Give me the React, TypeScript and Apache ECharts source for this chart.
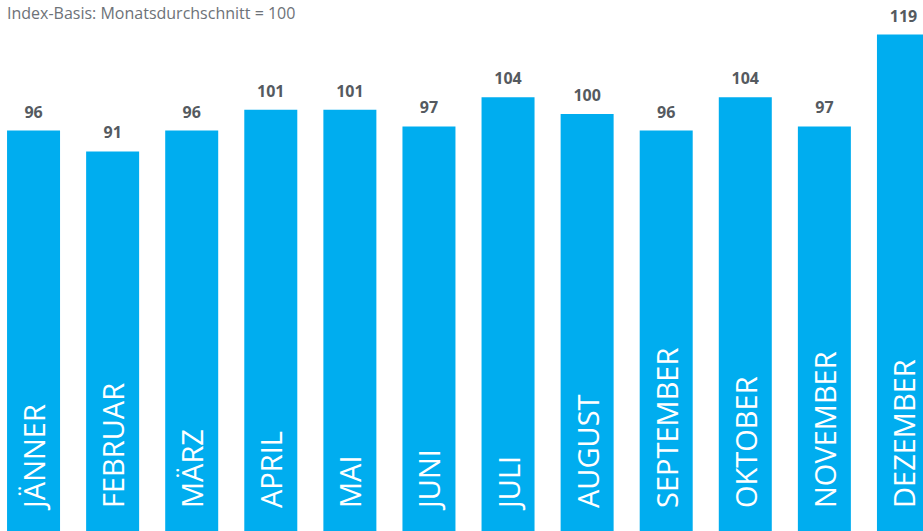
import React, { useEffect, useRef } from "react";
import * as echarts from "echarts";

const months = ["JÄNNER", "FEBRUAR", "MÄRZ", "APRIL", "MAI", "JUNI", "JULI", "AUGUST", "SEPTEMBER", "OKTOBER", "NOVEMBER", "DEZEMBER"];
const indexValues = [96, 91, 96, 101, 101, 97, 104, 100, 96, 104, 97, 119];
const subtitle = "Index-Basis: Monatsdurchschnitt = 100";

export default function App() {
  const ref = useRef<HTMLDivElement>(null);
  useEffect(() => {
    document.body.style.margin = "0";
    const chart = echarts.init(ref.current!, null, { renderer: "svg" });
    chart.setOption({
      animation: false,
      title: {
        text: subtitle,
        left: 8,
        top: 0,
        textStyle: { fontFamily: "Open Sans", fontSize: 16, fontWeight: "normal", color: "#6d7278" },
      },
      grid: { left: 0, right: 0, top: 0, bottom: 0, containLabel: false },
      xAxis: {
        type: "category",
        data: months,
        axisLine: { show: false },
        axisTick: { show: false },
        axisLabel: { show: false },
      },
      yAxis: { type: "value", min: 0, max: 127.3, show: false, splitLine: { show: false } },
      series: [
        {
          type: "bar",
          data: indexValues,
          barWidth: 53,
          itemStyle: { color: "#00adef" },
          label: {
            show: true,
            position: "insideBottom",
            rotate: 90,
            align: "left",
            verticalAlign: "middle",
            distance: 23,
            formatter: (p: any) => p.name,
            color: "#ffffff",
            fontFamily: "Open Sans",
            fontSize: 29,
          },
          z: 2,
        },
        {
          type: "bar",
          data: indexValues,
          barWidth: 53,
          barGap: "-100%",
          itemStyle: { color: "transparent" },
          label: {
            show: true,
            position: "top",
            distance: 11,
            color: "#555a60",
            fontFamily: "Open Sans",
            fontWeight: "bold",
            fontSize: 16,
          },
          z: 3,
        },
      ],
    });
    return () => chart.dispose();
  }, []);
  return (
    <div style={{ position: "relative", width: 923, height: 531, overflow: "hidden" }}>
      <div ref={ref} style={{ position: "absolute", left: -6, top: 0, width: 949, height: 531 }} />
    </div>
  );
}
